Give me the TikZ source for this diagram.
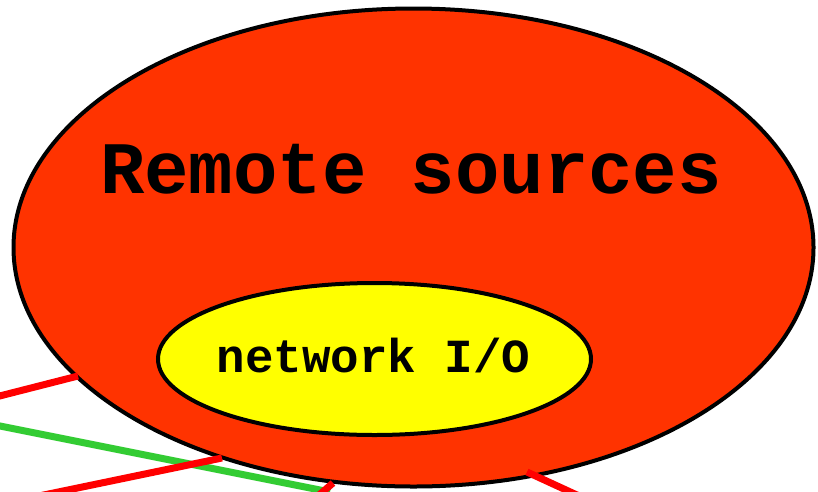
\documentclass[tikz,border=0pt]{standalone}
\usepackage{fontspec}
\setmonofont{Liberation Mono}
\usetikzlibrary{shapes.geometric}
\definecolor{remotefill}{HTML}{FF3300}
\definecolor{iofill}{HTML}{FFFF00}
\definecolor{edgered}{HTML}{FF0000}
\definecolor{edgegreen}{HTML}{33CC33}
\tikzset{
  blob/.style={ellipse, draw=black, line width=4pt, inner sep=0pt},
  caption/.style={inner sep=0pt, anchor=base},
  redflow/.style={draw=edgered, line width=7pt},
  greenflow/.style={draw=edgegreen, line width=7pt},
}
\begin{document}
\begin{tikzpicture}[x=1pt, y=-1pt]
  \useasboundingbox (0,0) rectangle (818,491);
  \clip (0,0) rectangle (818,491);

  % outer cluster and its inner process
  \node[blob, fill=remotefill, minimum width=800pt, minimum height=478pt] (remote) at (413.5,247.5) {};
  \node[blob, fill=iofill, minimum width=433pt, minimum height=152pt] (netio) at (374.5,359) {};

  \node[caption, font=\fontsize{74}{74}\selectfont\ttfamily\bfseries] (remotelbl) at (411,193) {Remote sources};
  \node[caption, font=\fontsize{47.5}{47.5}\selectfont\ttfamily\bfseries] (netiolbl) at (373.5,372) {network I/O};

  % edge end points
  \coordinate (r1a) at (-20,401);
  \coordinate (r1b) at (78,376);
  \coordinate (g1a) at (-20,422);
  \coordinate (g1b) at (330,492);
  \coordinate (r2a) at (10,502);
  \coordinate (r2b) at (222,458);
  \coordinate (r3a) at (305,507);
  \coordinate (r3b) at (333,483);
  \coordinate (r4a) at (527,472);
  \coordinate (r4b) at (590,501);

  \draw[redflow] (r1a) -- (r1b);
  \draw[greenflow] (g1a) -- (g1b);
  \draw[redflow] (r2a) -- (r2b);
  \draw[redflow] (r3a) -- (r3b);
  \draw[redflow] (r4a) -- (r4b);
\end{tikzpicture}
\end{document}
